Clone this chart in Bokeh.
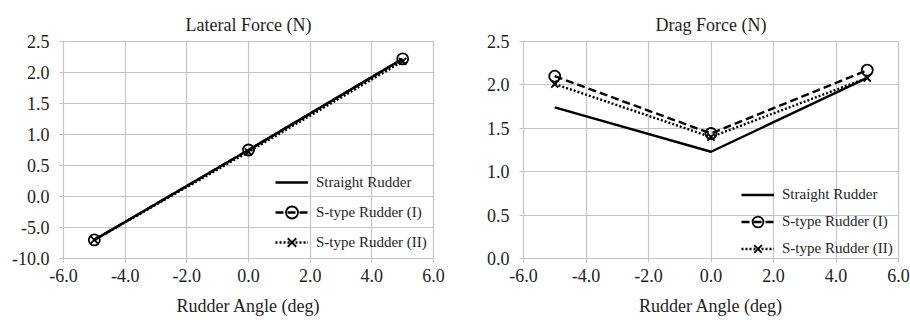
from bokeh.plotting import figure
from bokeh.layouts import row
from bokeh.models import FixedTicker, Legend, LegendItem, Range1d
from bokeh.embed import file_html
from bokeh.resources import INLINE

# ---- data ----
rudder_angle = [-5.0, 0.0, 5.0]

lateral_straight = [-0.70, 0.75, 2.22]
lateral_s1 = [-0.70, 0.75, 2.22]
lateral_s2 = [-0.70, 0.72, 2.18]

drag_straight = [1.74, 1.23, 2.08]
drag_s1 = [2.10, 1.44, 2.17]
drag_s2 = [2.01, 1.40, 2.08]

series_names = ["Straight Rudder", "S-type Rudder (I)", "S-type Rudder (II)"]

x_ticks = [-6, -4, -2, 0, 2, 4, 6]
x_tick_labels = ["-6.0", "-4.0", "-2.0", "0.0", "2.0", "4.0", "6.0"]

lat_y_ticks = [-1.0, -0.5, 0.0, 0.5, 1.0, 1.5, 2.0, 2.5]
lat_y_tick_labels = ["-10.0", "-5.0", "0.0", "0.5", "1.0", "1.5", "2.0", "2.5"]

drag_y_ticks = [0.0, 0.5, 1.0, 1.5, 2.0, 2.5]
drag_y_tick_labels = ["0.0", "0.5", "1.0", "1.5", "2.0", "2.5"]

FONT = "Liberation Serif"
TXT = "#1e1e1e"
GRID = "#c4c4c4"


def make_fig(title, ys, yticks, ylabels, yrange, borders, legend_loc, glyph_h):
    left, right, top, bottom = borders
    p = figure(width=455, height=320, output_backend="svg", toolbar_location=None,
               x_range=Range1d(-6, 6), y_range=Range1d(*yrange),
               min_border_left=left, min_border_right=right,
               min_border_top=top, min_border_bottom=bottom)
    p.title.text = title
    p.title.align = "center"
    p.title.text_font = FONT
    p.title.text_font_size = "18px"
    p.title.text_font_style = "normal"
    p.title.text_color = TXT
    p.title.standoff = 13

    p.xaxis.ticker = FixedTicker(ticks=x_ticks)
    p.xaxis.major_label_overrides = dict(zip(x_ticks, x_tick_labels))
    p.yaxis.ticker = FixedTicker(ticks=yticks)
    p.yaxis.major_label_overrides = dict(zip(yticks, ylabels))
    p.xaxis.axis_label = "Rudder Angle (deg)"
    for ax in (p.xaxis[0], p.yaxis[0]):
        ax.axis_line_color = GRID
        ax.major_tick_line_color = GRID
        ax.major_tick_out = 4
        ax.major_tick_in = 0
        ax.minor_tick_line_color = None
        ax.major_label_text_font = FONT
        ax.major_label_text_font_size = "18px"
        ax.major_label_text_color = TXT
        ax.axis_label_text_font = FONT
        ax.axis_label_text_font_size = "18px"
        ax.axis_label_text_font_style = "normal"
        ax.axis_label_text_color = TXT
    p.xaxis.major_label_standoff = 6
    p.xaxis.axis_label_standoff = 11
    p.yaxis.major_label_standoff = 10

    p.xgrid.ticker = FixedTicker(ticks=x_ticks)
    p.ygrid.ticker = FixedTicker(ticks=yticks)
    p.grid.grid_line_color = GRID
    p.grid.grid_line_width = 1.2
    p.outline_line_color = GRID
    p.outline_line_width = 1.2

    y0, y1, y2 = ys
    r0 = p.line(rudder_angle, y0, line_color="black", line_width=2.4)
    r1 = p.line(rudder_angle, y1, line_color="black", line_width=2.4, line_dash="8 4")
    m1 = p.scatter(rudder_angle, y1, marker="circle", size=11, fill_color="white",
                   fill_alpha=0.0, line_color="black", line_width=1.8)
    r2 = p.line(rudder_angle, y2, line_color="black", line_width=2.4, line_dash="2 2")
    m2 = p.scatter(rudder_angle, y2, marker="x", size=10, line_color="black", line_width=1.8)

    legend = Legend(items=[
        LegendItem(label=series_names[0], renderers=[r0]),
        LegendItem(label=series_names[1], renderers=[r1, m1]),
        LegendItem(label=series_names[2], renderers=[r2, m2]),
    ], location=legend_loc)
    legend.border_line_color = None
    legend.background_fill_alpha = 0.0
    legend.padding = 0
    legend.margin = 0
    legend.spacing = 0
    legend.glyph_width = 33
    legend.glyph_height = glyph_h
    legend.label_height = glyph_h
    legend.label_standoff = 8
    legend.label_text_font = FONT
    legend.label_text_font_size = "15px"
    legend.label_text_color = TXT
    p.add_layout(legend)
    return p


p1 = make_fig("Lateral Force (N)", (lateral_straight, lateral_s1, lateral_s2),
              lat_y_ticks, lat_y_tick_labels, (-1.0, 2.5), (63, 22, 41, 61), (212, 1), 30)
p2 = make_fig("Drag Force (N)", (drag_straight, drag_s1, drag_s2),
              drag_y_ticks, drag_y_tick_labels, (0.0, 2.5), (68, 12, 40, 62), (218, -4), 27)

layout = row(p1, p2)
open("out.html", "w").write(file_html(layout, INLINE))
